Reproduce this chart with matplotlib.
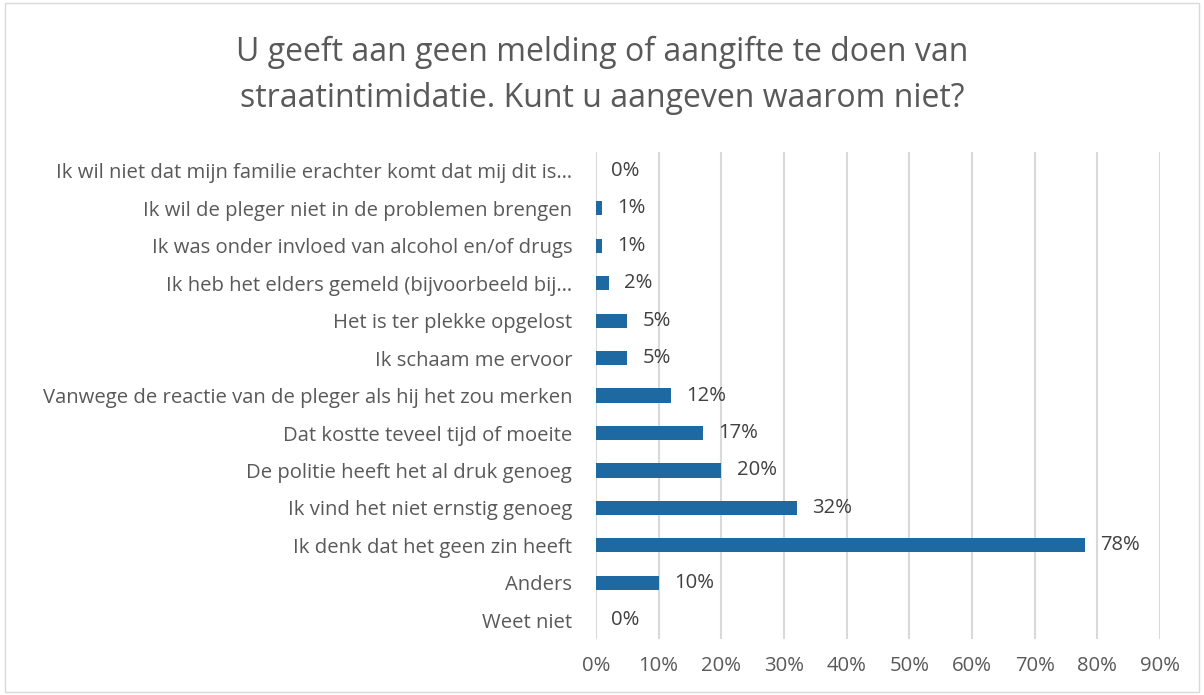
import matplotlib.pyplot as plt
from matplotlib.patches import Rectangle

# data, top to bottom as shown
labels = [
    "Ik wil niet dat mijn familie erachter komt dat mij dit is\u2026",
    "Ik wil de pleger niet in de problemen brengen",
    "Ik was onder invloed van alcohol en/of drugs",
    "Ik heb het elders gemeld (bijvoorbeeld bij\u2026",
    "Het is ter plekke opgelost",
    "Ik schaam me ervoor",
    "Vanwege de reactie van de pleger als hij het zou merken",
    "Dat kostte teveel tijd of moeite",
    "De politie heeft het al druk genoeg",
    "Ik vind het niet ernstig genoeg",
    "Ik denk dat het geen zin heeft",
    "Anders",
    "Weet niet",
]
values = [0, 1, 1, 2, 5, 5, 12, 17, 20, 32, 78, 10, 0]
xticks = list(range(0, 100, 10))

title = "U geeft aan geen melding of aangifte te doen van\nstraatintimidatie. Kunt u aangeven waarom niet?"

plt.rcParams['font.family'] = ['Open Sans', 'DejaVu Sans']

fig = plt.figure(figsize=(12.04, 6.95), dpi=100)
ax = fig.add_axes([0.495, 0.0806, 0.4685, 0.7004])

bar_color = '#1F69A3'
text_color = '#595959'
grid_color = '#D9D9D9'
fs = 14.6

y = list(range(len(labels)))
ax.barh(y, values, height=0.38, color=bar_color)
for yi, v in zip(y, values):
    ax.annotate(f"{v}%", (v, yi), xytext=(11, 0), textcoords='offset points',
                va='center', ha='left', fontsize=fs, color='#404040')

ax.set_ylim(len(labels) - 0.5, -0.5)
ax.set_xlim(0, 90)
ax.set_yticks(y)
ax.set_yticklabels(labels, fontsize=fs, color=text_color)
ax.set_xticks(xticks)
ax.set_xticklabels([f"{t}%" for t in xticks], fontsize=fs, color=text_color)
ax.tick_params(axis='both', length=0)
ax.tick_params(axis='y', pad=17)
ax.tick_params(axis='x', pad=12)
ax.grid(axis='x', color=grid_color, linewidth=1.5)
ax.set_axisbelow(True)
for s in ax.spines.values():
    s.set_visible(False)

fig.text(0.5, 0.892, title, ha='center', va='center', fontsize=23,
         color=text_color, linespacing=1.52)

fig.patches.append(Rectangle((0.004, 0.004), 0.992, 0.992, transform=fig.transFigure,
                             fill=False, edgecolor='#D9D9D9', linewidth=1))

fig.savefig('out.png', dpi=100, facecolor='white')
